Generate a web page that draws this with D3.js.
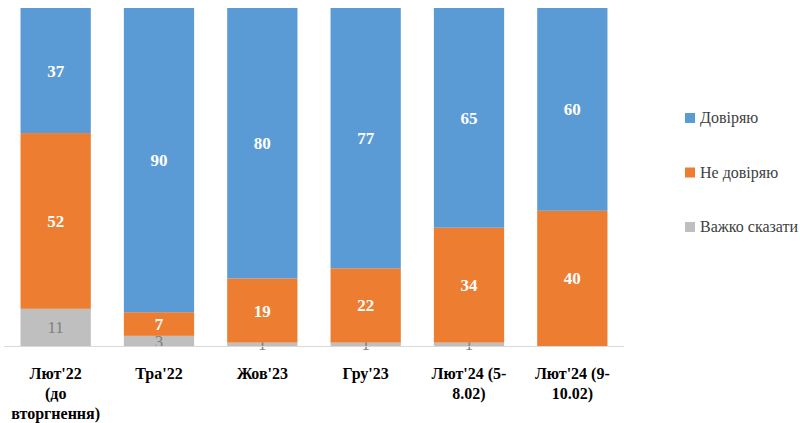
<!DOCTYPE html>
<html><head><meta charset="utf-8">
<script src="https://cdn.jsdelivr.net/npm/d3@7"></script>
<style>body{margin:0;background:#fff}</style>
</head><body>
<svg id="c" width="800" height="423"></svg>
<script>
const categories = [["Лют'22","(до","вторгнення)"],["Тра'22"],["Жов'23"],["Гру'23"],["Лют'24 (5-","8.02)"],["Лют'24 (9-","10.02)"]];
const trust = [37,90,80,77,65,60];
const distrust = [52,7,19,22,34,40];
const hard = [11,3,1,1,1,0];
const seriesNames = ["Довіряю","Не довіряю","Важко сказати"];
const colors = ["#5B9BD5","#ED7D31","#BFBFBF"];

const svg = d3.select("#c");
const font = "Liberation Serif, Times New Roman, serif";
const x = d3.scaleBand().domain(d3.range(categories.length)).range([4,624]).paddingInner(0.32).paddingOuter(0.16);
const y = d3.scaleLinear().domain([0,100]).range([346,8]);

const series = [hard, distrust, trust];
const cols = [colors[2], colors[1], colors[0]];
const labelCols = ["#7F7F7F","#fff","#fff"];
categories.forEach((c,i)=>{
  let base = 0;
  series.forEach((s,k)=>{
    const v = s[i];
    if (v>0){
      svg.append("rect").attr("x",x(i)).attr("width",x.bandwidth())
        .attr("y",y(base+v)).attr("height",y(base)-y(base+v)).attr("fill",cols[k]);
      svg.append("text").attr("x",x(i)+x.bandwidth()/2).attr("y",y(base+v/2)+6)
        .attr("text-anchor","middle").attr("font-family",font).attr("font-size",17)
        .attr("font-weight",k==0?"normal":"bold").attr("fill",labelCols[k]).text(v);
    }
    base += v;
  });
});
svg.append("line").attr("x1",4).attr("x2",624).attr("y1",346.5).attr("y2",346.5).attr("stroke","#D9D9D9");
categories.forEach((lines,i)=>{
  const t = svg.append("text").attr("text-anchor","middle").attr("font-family",font)
    .attr("font-size",16).attr("font-weight","bold").attr("fill","#000");
  lines.forEach((l,j)=>t.append("tspan").attr("x",x(i)+x.bandwidth()/2).attr("y",379+j*20).text(l));
});
seriesNames.forEach((n,k)=>{
  const yy = 118 + k*54.5;
  svg.append("rect").attr("x",685).attr("y",yy-5).attr("width",10).attr("height",10).attr("fill",colors[k]);
  svg.append("text").attr("x",700).attr("y",yy+5).attr("font-family",font).attr("font-size",16).attr("fill","#404040").text(n);
});
</script>
</body></html>
